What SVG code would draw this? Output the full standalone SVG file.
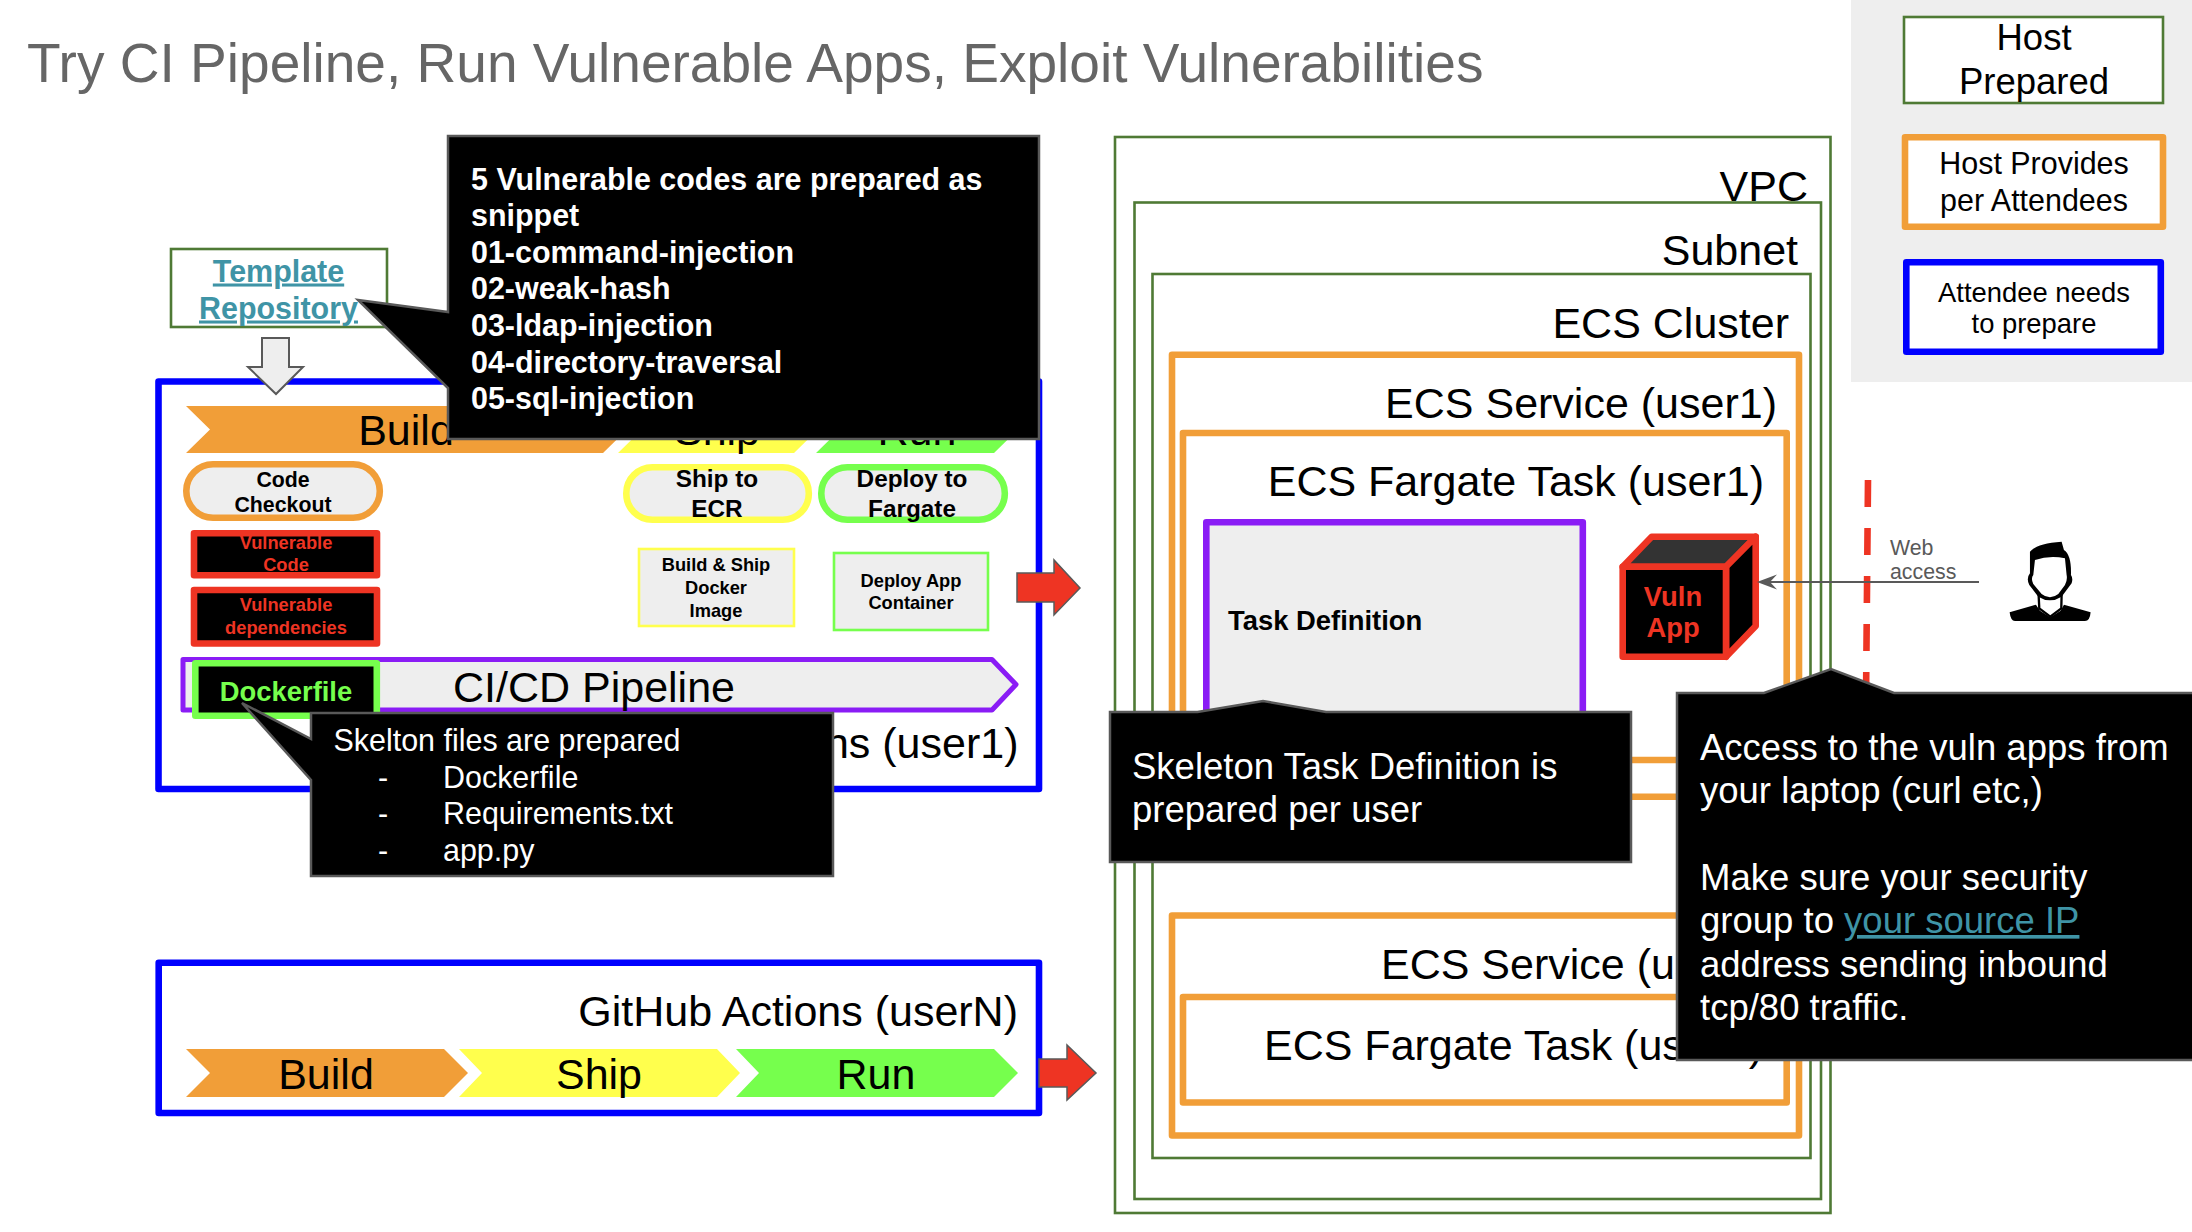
<svg xmlns="http://www.w3.org/2000/svg" width="2192" height="1232" viewBox="0 0 2192 1232">
<style>
text{font-family:"Liberation Sans",Arial,sans-serif;fill:#000}
.s14{font-size:43px}.s12{font-size:36.5px}.s10{font-size:30.44px}.s9{font-size:27.4px}.s8{font-size:24.35px}.s7{font-size:21.3px}.s6{font-size:18.27px}
.b{font-weight:700}.m{text-anchor:middle}.e{text-anchor:end}.w{fill:#fff}.r{fill:#ee3423}
.link{fill:#3f94a6;text-decoration:underline}
.grn{fill:#fff;stroke:#4f7a35;stroke-width:2.6}
.org{fill:#fff;stroke:#f19e38;stroke-width:6.6;stroke-linejoin:round}
.blu{fill:#fff;stroke:#0000ff;stroke-width:6.6;stroke-linejoin:round}
.vul{fill:#000;stroke:#ee3423;stroke-width:6.6;stroke-linejoin:round}
.call{fill:#000;stroke:#595959;stroke-width:2.5}
</style>
<rect width="2192" height="1232" fill="#fff"/>
<text id="title" x="27" y="82" font-size="55.05px" style="fill:#666666">Try CI Pipeline, Run Vulnerable Apps, Exploit Vulnerabilities</text>

<g id="legend">
<rect x="1851" y="0" width="341" height="382" fill="#eeeeee"/>
<g id="legend-host-prepared"><rect class="grn" x="1904" y="17" width="259" height="86"/><text class="s12 m" x="2034" y="50">Host</text><text class="s12 m" x="2034" y="94">Prepared</text></g>
<g id="legend-host-provides"><rect class="org" x="1905" y="137.3" width="258" height="89.5"/><text class="s10 m" x="2034" y="174">Host Provides</text><text class="s10 m" x="2034" y="211">per Attendees</text></g>
<g id="legend-attendee"><rect class="blu" x="1906.3" y="262.3" width="254.5" height="89.5"/><text class="s9 m" x="2034" y="302">Attendee needs</text><text class="s9 m" x="2034" y="333">to prepare</text></g>
</g>

<g id="template-repo"><rect class="grn" x="171" y="249" width="216" height="78"/><text class="s10 b m link" x="278.500" y="281.500">Template</text><text class="s10 b m link" x="278.500" y="318.500">Repository</text></g>

<g id="actions-user1">
<rect class="blu" x="158.5" y="381.5" width="880.5" height="407.5"/>
<text class="s14 e" x="1018.500" y="758">ns (user1)</text>
<g id="stage-build1"><polygon points="186,406 603,406 627,429.5 603,453 186,453 210,429.5" fill="#f19e38"/><text class="s14 m" x="406" y="445">Build</text></g>
<g id="stage-ship1"><polygon points="618,406 794,406 818,429.5 794,453 618,453 642,429.5" fill="#ffff4d"/><text class="s14 m" x="717" y="445">Ship</text></g>
<g id="stage-run1"><polygon points="816,406 994,406 1018,429.5 994,453 816,453 840,429.5" fill="#76ff4d"/><text class="s14 m" x="917" y="445">Run</text></g>
<g id="code-checkout"><rect x="186.300" y="464.300" width="193.500" height="53.500" rx="26.700" fill="#eeeeee" stroke="#f19e38" stroke-width="6.600"/><text class="s7 b m" x="283" y="486.500">Code</text><text class="s7 b m" x="283" y="512">Checkout</text></g>
<g id="vuln-code"><rect class="vul" x="194" y="533.300" width="183" height="42"/><text class="s6 b m r" x="286" y="548.500">Vulnerable</text><text class="s6 b m r" x="286" y="571">Code</text></g>
<g id="vuln-deps"><rect class="vul" x="194" y="590" width="183" height="53.500"/><text class="s6 b m r" x="286" y="611">Vulnerable</text><text class="s6 b m r" x="286" y="634">dependencies</text></g>
<g id="ship-ecr"><rect x="626.300" y="467.300" width="182.500" height="52.500" rx="26" fill="#eeeeee" stroke="#ffff4d" stroke-width="6.600"/><text class="s8 b m" x="717" y="487">Ship to</text><text class="s8 b m" x="717" y="517">ECR</text></g>
<g id="deploy-fargate"><rect x="821.300" y="467.300" width="183.500" height="52.500" rx="26" fill="#eeeeee" stroke="#76ff4d" stroke-width="6.600"/><text class="s8 b m" x="912" y="487">Deploy to</text><text class="s8 b m" x="912" y="517">Fargate</text></g>
<g id="build-image"><rect x="639" y="549" width="155" height="77" fill="#eeeeee" stroke="#ffff4d" stroke-width="2.600"/><text class="s6 b m" x="716" y="571">Build &amp; Ship</text><text class="s6 b m" x="716" y="593.500">Docker</text><text class="s6 b m" x="716" y="617">Image</text></g>
<g id="deploy-container"><rect x="834" y="553" width="154" height="77" fill="#eeeeee" stroke="#76ff4d" stroke-width="2.600"/><text class="s6 b m" x="911" y="587">Deploy App</text><text class="s6 b m" x="911" y="609">Container</text></g>
<g id="cicd"><polygon points="183,659.500 992,659.500 1016,684.500 992,710 183,710" fill="#eeeeee" stroke="#8a1cf5" stroke-width="5" stroke-linejoin="round"/><text class="s14 m" x="594" y="701.500">CI/CD Pipeline</text></g>
<g id="dockerfile"><rect x="195.300" y="663.300" width="181.500" height="52.500" fill="#000" stroke="#76ff4d" stroke-width="6.600" stroke-linejoin="round"/><text class="s9 b m" style="fill:#76ff4d" x="286" y="700.500">Dockerfile</text></g>
</g>

<g id="actions-usern">
<rect class="blu" x="158.700" y="962.700" width="880.300" height="150.300"/>
<text class="s14 e" x="1018" y="1026">GitHub Actions (userN)</text>
<g id="stage-buildn"><polygon points="186,1049 444,1049 468,1073 444,1097 186,1097 210,1073" fill="#f19e38"/><text class="s14 m" x="326" y="1089">Build</text></g>
<g id="stage-shipn"><polygon points="459,1049 717,1049 740,1073 717,1097 459,1097 482,1073" fill="#ffff4d"/><text class="s14 m" x="599" y="1089">Ship</text></g>
<g id="stage-runn"><polygon points="736,1049 994,1049 1018,1073 994,1097 736,1097 759,1073" fill="#76ff4d"/><text class="s14 m" x="876" y="1089">Run</text></g>
</g>

<g id="vpc"><rect class="grn" x="1115" y="137" width="715.500" height="1076"/><text class="s14 e" x="1808" y="201">VPC</text></g>
<g id="subnet"><rect class="grn" x="1134.500" y="202.500" width="686.500" height="996.500"/><text class="s14 e" x="1798" y="265">Subnet</text></g>
<g id="cluster"><rect class="grn" x="1152.500" y="274" width="658" height="884"/><text class="s14 e" x="1789" y="338">ECS Cluster</text></g>
<g id="service1"><rect class="org" x="1172" y="354.700" width="627" height="442"/><text class="s14 e" x="1777" y="418">ECS Service (user1)</text></g>
<g id="task1"><rect class="org" x="1183" y="433" width="603.700" height="327"/><text class="s14 e" x="1764" y="496">ECS Fargate Task (user1)</text></g>
<g id="task-definition"><rect x="1206.300" y="522.300" width="376.500" height="240" fill="#eeeeee" stroke="#8a1cf5" stroke-width="6.600" stroke-linejoin="round"/><text class="s9 b" x="1228" y="629.500">Task Definition</text></g>
<g id="vuln-app">
<polygon points="1622.700,566.700 1651.700,536.700 1755.700,536.700 1726,566.700" fill="#333333" stroke="#ee3423" stroke-width="6.600" stroke-linejoin="round"/>
<polygon points="1726,566.700 1755.700,536.700 1755.700,626 1726,656.700" fill="#000" stroke="#ee3423" stroke-width="6.600" stroke-linejoin="round"/>
<rect x="1622.700" y="566.700" width="103.300" height="90" fill="#000" stroke="#ee3423" stroke-width="6.600" stroke-linejoin="round"/>
<text class="s9 b m r" x="1673" y="606">Vuln</text><text class="s9 b m r" x="1673" y="637">App</text>
</g>
<g id="servicen"><rect class="org" x="1172" y="915.500" width="627" height="220"/><text class="s14" x="1381" y="979">ECS Service (us</text></g>
<g id="taskn"><rect class="org" x="1183" y="997" width="603.700" height="105.500"/><text class="s14" x="1264" y="1060">ECS Fargate Task (us</text><text class="s14 e" x="1763" y="1060">)</text></g>

<g id="connectors">
<polygon id="arrow-down" points="262,338 289,338 289,367 303,367 276,394 248,367 262,367" fill="#eeeeee" stroke="#595959" stroke-width="2"/>
<polygon id="arrow-build1" points="1017,573 1054,573 1054,560 1080,588 1054,615 1054,602 1017,602" fill="#ee3423" stroke="#595959" stroke-width="1.500"/>
<polygon id="arrow-buildn" points="1039,1059 1067,1059 1067,1045 1096,1073 1067,1100 1067,1087 1039,1087" fill="#ee3423" stroke="#595959" stroke-width="1.500"/>
<line id="boundary" x1="1868" y1="480" x2="1866" y2="700" stroke="#ee3423" stroke-width="6.600" stroke-dasharray="27 21"/>
<line id="web-access" x1="1979" y1="582" x2="1765" y2="582" stroke="#595959" stroke-width="2.200"/>
<polygon points="1757,582 1777,574.500 1770,582 1777,589.500" fill="#595959"/>
</g>
<g id="web-label"><text class="s7" style="fill:#595959" x="1890" y="555">Web</text><text class="s7" style="fill:#595959" x="1890" y="579">access</text></g>
<g id="attendee" transform="translate(1600 480) scale(0.3333)">
<path d="M1229 397L1308 374L1320 392L1351 412L1382 392L1392 374L1472 397Q1470 423 1455 423L1245 423Q1232 423 1229 397Z" fill="#000"/>
<path d="M1316 345L1318 385L1351 410L1384 385L1385 345Z" fill="#fff" stroke="#000" stroke-width="7"/>
<path d="M1290 215Q1310 190 1385 185L1392 210Q1415 225 1413 285Q1420 295 1415 310L1385 350Q1350 372 1315 350L1288 315Q1278 295 1290 280Z" fill="#000"/>
<path d="M1305 240Q1350 225 1395 235L1400 285Q1403 300 1395 315L1375 342Q1350 362 1325 342L1300 312Q1292 295 1300 285Z" fill="#fff"/>
</g>

<g id="callout-snippets">
<polygon class="call" points="448,136 1039,136 1039,439 448,439 448,388 358,300 448,312"/>
<text class="s10 b w" x="471" y="189.500">5 Vulnerable codes are prepared as</text>
<text class="s10 b w" x="471" y="226">snippet</text>
<text class="s10 b w" x="471" y="262.500">01-command-injection</text>
<text class="s10 b w" x="471" y="299">02-weak-hash</text>
<text class="s10 b w" x="471" y="335.500">03-ldap-injection</text>
<text class="s10 b w" x="471" y="372.500">04-directory-traversal</text>
<text class="s10 b w" x="471" y="409">05-sql-injection</text>
</g>
<g id="callout-skelton">
<polygon class="call" points="311,713 833,713 833,876 311,876 311,780 242,703 311,739"/>
<text class="s10 w" x="333.500" y="751">Skelton files are prepared</text>
<text class="s10 w" x="378" y="788">-</text><text class="s10 w" x="443" y="788">Dockerfile</text>
<text class="s10 w" x="378" y="824">-</text><text class="s10 w" x="443" y="824">Requirements.txt</text>
<text class="s10 w" x="378" y="861">-</text><text class="s10 w" x="443" y="861">app.py</text>
</g>
<g id="callout-taskdef">
<polygon class="call" points="1110,712 1197.500,712 1263,701 1326,712 1631,712 1631,862 1110,862"/>
<text class="s12 w" x="1132" y="779">Skeleton Task Definition is</text>
<text class="s12 w" x="1132" y="822">prepared per user</text>
</g>
<g id="callout-access">
<polygon class="call" points="1677,693 1764,693 1831,669 1894,693 2200,693 2200,1060 1677,1060"/>
<text class="s12 w" x="1700" y="760">Access to the vuln apps from</text>
<text class="s12 w" x="1700" y="803">your laptop (curl etc,)</text>
<text class="s12 w" x="1700" y="890">Make sure your security</text>
<text class="s12 w" x="1700" y="933">group to <tspan class="link">your source IP</tspan></text>
<text class="s12 w" x="1700" y="977">address sending inbound</text>
<text class="s12 w" x="1700" y="1020">tcp/80 traffic.</text>
</g>
</svg>
